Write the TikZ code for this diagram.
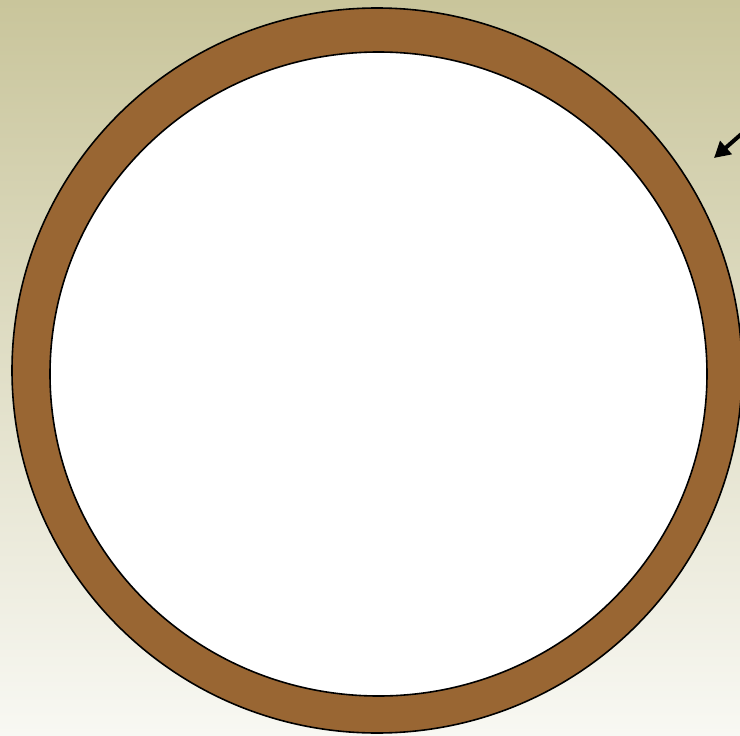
\documentclass[tikz,border=0pt]{standalone}
\usetikzlibrary{arrows.meta}
\definecolor{bgtop}{RGB}{201,197,155}
\definecolor{bgbot}{RGB}{248,248,243}
\definecolor{pipe}{RGB}{153,102,51}
\tikzset{
  ring/.style={draw=black, line width=1.6pt, fill=pipe},
  bore/.style={draw=black, line width=1.6pt, fill=white},
  pointer/.style={draw=black, line width=4pt, -{Triangle[length=16pt,width=17pt]}}
}
\begin{document}
\begin{tikzpicture}[x=1pt,y=-1pt]
\useasboundingbox (0,0) rectangle (740,736);
\shade[top color=bgtop, bottom color=bgbot] (0,0) rectangle (740,736);
\path[ring] (377,370.5) ellipse [x radius=365, y radius=362.5];
\path[bore] (378.5,374) ellipse [x radius=328.5, y radius=322];
\coordinate (tail) at (746,130);
\coordinate (tip) at (714,158);
\draw[pointer] (tail) -- (tip);
\end{tikzpicture}
\end{document}
